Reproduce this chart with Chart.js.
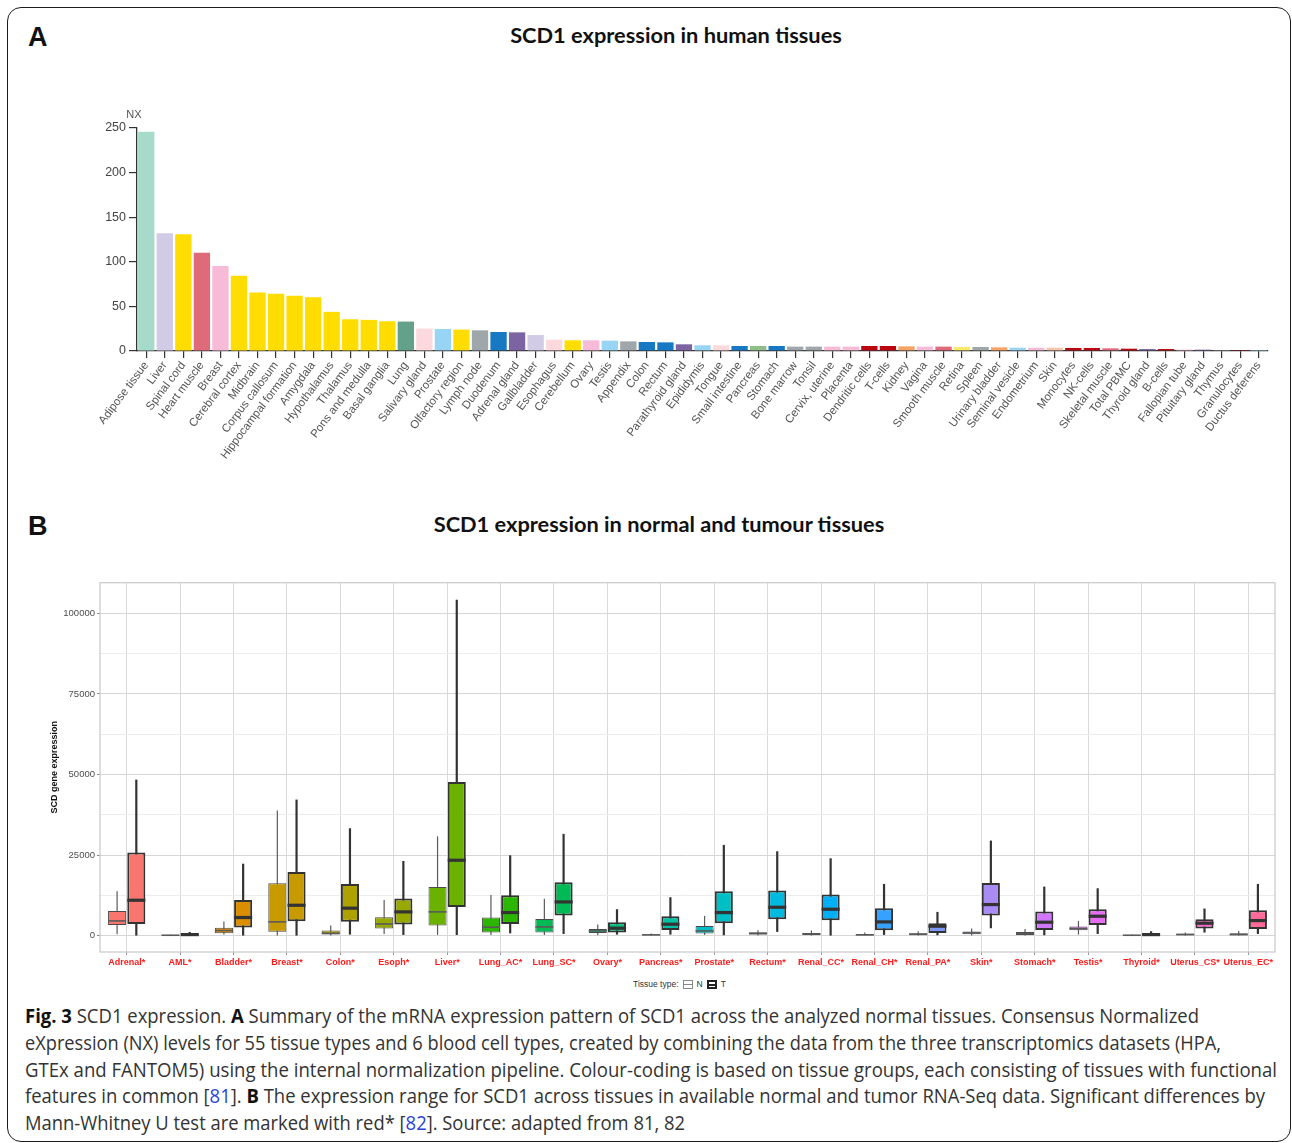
<!DOCTYPE html>
<html>
<head>
<meta charset="utf-8">
<script src="https://cdn.jsdelivr.net/npm/chart.js@4/dist/chart.umd.min.js"></script>
<style>
  body { margin: 0; width: 1292px; height: 1143px; position: relative; overflow: hidden; background: #fff; font-family: "Liberation Sans", Arial, sans-serif; }
  #frame { position: absolute; left: 7px; top: 7px; width: 1284px; height: 1135px; border: 1.6px solid #1c1c1c; border-radius: 14px; box-sizing: border-box; }
  .letter { position: absolute; font: bold 27px "Liberation Sans", Arial, sans-serif; color: #111; }
  .title { position: absolute; font: bold 21.8px Lato, sans-serif; color: #111; white-space: nowrap; transform: translate(-50%, -50%); }
  #chartA { position: absolute; left: 55px; top: 95px; }
  #chartB { position: absolute; left: 45px; top: 575px; }
  #legendB { position: absolute; left: 633px; top: 979px; font: 8.5px "Liberation Sans", Arial, sans-serif; color: #333; white-space: nowrap; }
  #legendB .key { display: inline-block; width: 10px; height: 9px; vertical-align: middle; box-sizing: border-box; margin: 0 4px 0 4px; }
  #caption { position: absolute; left: 25px; top: 1003px; font: 20px "Open Sans", sans-serif; color: #333; }
  #caption div { white-space: nowrap; line-height: 26.8px; transform-origin: 0 50%; width: max-content; }
  #caption b { font-weight: 700; color: #111; }
  #caption .ref { color: #2a3fd8; }
</style>
</head>
<body>
<div id="frame"></div>
<div class="letter" style="left:28px;top:22px">A</div>
<div class="title" style="left:676px;top:34px">SCD1 expression in human tissues</div>
<div class="letter" style="left:28px;top:511px">B</div>
<div class="title" style="left:659px;top:523px">SCD1 expression in normal and tumour tissues</div>

<canvas id="chartA" width="1237" height="395"></canvas>
<canvas id="chartB" width="1247" height="400"></canvas>

<div id="legendB">Tissue type:<span class="key" id="keyN"></span>N<span class="key" id="keyT"></span>T</div>

<div id="caption">
  <div><b>Fig. 3</b> SCD1 expression. <b>A</b> Summary of the mRNA expression pattern of SCD1 across the analyzed normal tissues. Consensus Normalized</div>
  <div>eXpression (NX) levels for 55 tissue types and 6 blood cell types, created by combining the data from the three transcriptomics datasets (HPA,</div>
  <div>GTEx and FANTOM5) using the internal normalization pipeline. Colour-coding is based on tissue groups, each consisting of tissues with functional</div>
  <div>features in common [<span class="ref">81</span>]. <b>B</b> The expression range for SCD1 across tissues in available normal and tumor RNA-Seq data. Significant differences by</div>
  <div>Mann-Whitney U test are marked with red* [<span class="ref">82</span>]. Source: adapted from 81, 82</div>
</div>

<script>
// Panel A: consensus NX per tissue
const tissues = [
  "Adipose tissue", "Liver", "Spinal cord", "Heart muscle", "Breast", "Cerebral cortex",
  "Midbrain", "Corpus callosum", "Hippocampal formation", "Amygdala", "Hypothalamus",
  "Thalamus", "Pons and medulla", "Basal ganglia", "Lung", "Salivary gland", "Prostate",
  "Olfactory region", "Lymph node", "Duodenum", "Adrenal gland", "Gallbladder", "Esophagus",
  "Cerebellum", "Ovary", "Testis", "Appendix", "Colon", "Rectum", "Parathyroid gland",
  "Epididymis", "Tongue", "Small intestine", "Pancreas", "Stomach", "Bone marrow", "Tonsil",
  "Cervix, uterine", "Placenta", "Dendritic cells", "T-cells", "Kidney", "Vagina",
  "Smooth muscle", "Retina", "Spleen", "Urinary bladder", "Seminal vesicle", "Endometrium",
  "Skin", "Monocytes", "NK-cells", "Skeletal muscle", "Total PBMC", "Thyroid gland",
  "B-cells", "Fallopian tube", "Pituitary gland", "Thymus", "Granulocytes", "Ductus deferens"
];
const nxValues = [
  245.9, 131.9, 130.8, 110.2, 95.2, 84.3,
  65.6, 64.1, 61.8, 60.3, 43.9,
  35.6, 34.9, 33.4, 33.0, 25.1, 24.7,
  24.0, 23.2, 21.3, 20.9, 17.9, 12.7,
  12.0, 12.0, 11.6, 10.8, 10.1, 9.7, 7.5,
  6.4, 6.4, 5.6, 5.6, 5.6, 4.9, 4.9,
  4.9, 4.9, 5.6, 5.6, 5.2, 4.9,
  4.9, 4.5, 4.5, 4.1, 3.7, 3.7,
  3.7, 3.4, 3.4, 3.0, 2.6, 2.2,
  2.2, 1.5, 1.5, 1.1, 0.3, 0.2
];
const groupColors = {
  adipose: "#a6dbcb", liver: "#d2cbe6", brain: "#ffdd00", muscle: "#de6a7a", female: "#f8bbd7",
  lung: "#64a18a", proximal: "#fcd9dc", male: "#98d4f3", lymphoid: "#a0a7aa", gut: "#1779c3",
  endocrine: "#7c64a2", pancreas: "#8fbf87", blood: "#bd0710", kidney: "#f7a364", eye: "#f9e86a",
  skin: "#f8c6aa"
};
const tissueGroups = [
  "adipose", "liver", "brain", "muscle", "female", "brain",
  "brain", "brain", "brain", "brain", "brain",
  "brain", "brain", "brain", "lung", "proximal", "male",
  "brain", "lymphoid", "gut", "endocrine", "liver", "proximal",
  "brain", "female", "male", "lymphoid", "gut", "gut", "endocrine",
  "male", "proximal", "gut", "pancreas", "gut", "lymphoid", "lymphoid",
  "female", "female", "blood", "blood", "kidney", "female",
  "muscle", "eye", "lymphoid", "kidney", "male", "female",
  "skin", "blood", "blood", "muscle", "blood", "endocrine",
  "blood", "female", "endocrine", "lymphoid", "blood", "male"
];
const nxTicks = [0, 50, 100, 150, 200, 250];

// Panel B: box statistics per cancer type (N = normal, T = tumour)
const cancerTypes = [
  "Adrenal*", "AML*", "Bladder*", "Breast*", "Colon*", "Esoph*", "Liver*", "Lung_AC*",
  "Lung_SC*", "Ovary*", "Pancreas*", "Prostate*", "Rectum*", "Renal_CC*", "Renal_CH*",
  "Renal_PA*", "Skin*", "Stomach*", "Testis*", "Thyroid*", "Uterus_CS*", "Uterus_EC*"
];
const nMin = [400, 0, 300, 0, 0, 500, 200, 200, 200, 100, 0, 200, 0, 0, 0, 0, 0, 0, 300, 0, 0, 0];
const nQ1  = [3300, 0, 700, 1150, 300, 2200, 3100, 930, 930, 830, 0, 620, 300, 200, 0, 100, 410, 200, 1650, 0, 0, 0];
const nMed = [4550, 100, 1550, 4250, 700, 3600, 7350, 2590, 2690, 1450, 200, 1450, 620, 520, 200, 410, 830, 620, 2170, 100, 300, 300];
const nQ3  = [7650, 200, 2400, 16200, 1550, 5700, 15100, 5580, 5170, 2070, 410, 3000, 1030, 830, 520, 720, 1240, 1140, 2790, 200, 620, 720];
const nMax = [13750, 300, 4400, 38800, 3100, 11050, 30800, 12600, 11400, 3400, 620, 6100, 1650, 1550, 930, 1340, 2170, 2070, 4550, 300, 930, 1450];

const tMin = [0, 0, 0, 0, 300, 200, 200, 700, 500, 300, 300, 100, 1140, 0, 200, 100, 2280, 100, 500, 0, 930, 500];
const tQ1  = [3600, 0, 2500, 4450, 4250, 3400, 8900, 3600, 6200, 930, 1760, 3830, 5070, 4760, 1650, 830, 6200, 1760, 3310, 0, 2170, 2070];
const tMed = [10960, 300, 5600, 9400, 8500, 7350, 23370, 7140, 10440, 2280, 3520, 7140, 8790, 8170, 4240, 2900, 9620, 4140, 6000, 300, 3830, 4650];
const tQ3  = [25750, 700, 11050, 19750, 16000, 11500, 47670, 12500, 16550, 4140, 6000, 13750, 13960, 12720, 8480, 3830, 16340, 7450, 8170, 830, 5070, 7860];
const tMax = [48400, 1100, 22300, 42200, 33300, 23150, 104240, 24900, 31540, 8170, 11900, 28130, 26160, 23990, 16030, 7340, 29470, 15200, 14680, 1340, 8380, 16030];

const cancerColors = [
  "#f8766d", "#ea8331", "#db8e00", "#c79a00", "#aea200", "#97a900", "#6bb100", "#2db600",
  "#00bb55", "#00bf7d", "#00c1a3", "#00bfc4", "#00bae0", "#00b0f6", "#35a2ff",
  "#7997ff", "#a98bf5", "#d077fc", "#e76bf3", "#f564e3", "#fc62c9", "#ff6a98"
];
const exprMajorTicks = [0, 25000, 50000, 75000, 100000];

function pairs(lo, hi) {
  const out = [];
  for (let i = 0; i < lo.length; i++) {
    const p = [lo[i], hi[i] ];
    out.push(p);
  }
  return out;
}

// ---------- Panel A ----------
const nxLabel = {
  id: "nxLabel",
  afterDraw(chart) {
    const ctx = chart.ctx;
    const y = chart.scales.y;
    ctx.save();
    ctx.fillStyle = "#555";
    ctx.font = "11px 'Liberation Sans', Arial";
    ctx.textAlign = "center";
    ctx.fillText("NX", y.right - 3, y.top - 10);
    ctx.restore();
  }
};

new Chart(document.getElementById("chartA"), {
  type: "bar",
  data: {
    labels: tissues,
    datasets: [{
      data: nxValues,
      backgroundColor: tissueGroups.map(g => groupColors[g]),
      barPercentage: 0.88,
      categoryPercentage: 1
    }]
  },
  options: {
    responsive: false,
    animation: false,
    layout: { padding: { top: 33, right: 24, left: 0, bottom: 0 } },
    plugins: { legend: { display: false }, tooltip: { enabled: false } },
    scales: {
      x: {
        afterFit(scale) { scale.height = 139; },
        grid: { drawOnChartArea: false, offset: false, tickLength: 7, tickColor: "#333", lineWidth: 1.2 },
        border: { color: "#333", width: 1.3 },
        ticks: {
          autoSkip: false, minRotation: 53, maxRotation: 53, padding: 1,
          color: "#555", font: { size: 11.5, family: "'Liberation Sans', Arial" }
        }
      },
      y: {
        min: 0, max: 250,
        afterFit(scale) { scale.width = 82; },
        afterBuildTicks(scale) { scale.ticks = nxTicks.map(v => ({ value: v })); },
        grid: { drawOnChartArea: false, tickLength: 8, tickColor: "#333", lineWidth: 1.2 },
        border: { color: "#333", width: 1.3 },
        ticks: { color: "#444", padding: 3, font: { size: 12.5, family: "'Liberation Sans', Arial" } }
      }
    }
  },
  plugins: [nxLabel]
});

// ---------- Panel B ----------
const boxSets = [
  { min: nMin, med: nMed, max: nMax, whisker: 1.2, median: 1.6, color: "#5a5a5a" },
  { min: tMin, med: tMed, max: tMax, whisker: 2.2, median: 3.2, color: "#333" }
];

const boxLines = {
  id: "boxLines",
  beforeDatasetsDraw(chart) {
    const ctx = chart.ctx, y = chart.scales.y;
    boxSets.forEach((s, d) => {
      chart.getDatasetMeta(d).data.forEach((bar, i) => {
        ctx.save();
        ctx.strokeStyle = s.color;
        ctx.lineWidth = s.whisker;
        ctx.beginPath();
        ctx.moveTo(bar.x, y.getPixelForValue(s.min[i]));
        ctx.lineTo(bar.x, y.getPixelForValue(s.max[i]));
        ctx.stroke();
        ctx.restore();
      });
    });
  },
  afterDatasetsDraw(chart) {
    const ctx = chart.ctx, y = chart.scales.y;
    boxSets.forEach((s, d) => {
      chart.getDatasetMeta(d).data.forEach((bar, i) => {
        const py = y.getPixelForValue(s.med[i]);
        ctx.save();
        ctx.strokeStyle = s.color;
        ctx.lineWidth = s.median;
        ctx.beginPath();
        ctx.moveTo(bar.x - bar.width / 2, py);
        ctx.lineTo(bar.x + bar.width / 2, py);
        ctx.stroke();
        ctx.restore();
      });
    });
  },
  afterDraw(chart) {
    const a = chart.chartArea, ctx = chart.ctx;
    ctx.save();
    ctx.strokeStyle = "#c8c8c8";
    ctx.lineWidth = 1.2;
    ctx.strokeRect(a.left, a.top, a.right - a.left, a.bottom - a.top);
    ctx.restore();
  }
};

function isMajor(v) { return exprMajorTicks.indexOf(v) !== -1; }

new Chart(document.getElementById("chartB"), {
  type: "bar",
  data: {
    labels: cancerTypes,
    datasets: [
      {
        label: "N",
        data: pairs(nQ1, nQ3),
        backgroundColor: cancerColors,
        borderColor: "#4a4a4a",
        borderWidth: 1,
        borderSkipped: false,
        barPercentage: 0.94,
        categoryPercentage: 0.72
      },
      {
        label: "T",
        data: pairs(tQ1, tQ3),
        backgroundColor: cancerColors,
        borderColor: "#333",
        borderWidth: 2,
        borderSkipped: false,
        barPercentage: 0.94,
        categoryPercentage: 0.72
      }
    ]
  },
  options: {
    responsive: false,
    animation: false,
    layout: { padding: { top: 7, right: 17, left: 0, bottom: 0 } },
    plugins: { legend: { display: false }, tooltip: { enabled: false } },
    scales: {
      x: {
        afterFit(scale) { scale.height = 23; },
        grid: { offset: false, color: "#dadada", lineWidth: 1, tickLength: 3, tickColor: "#999" },
        border: { display: false },
        ticks: {
          color: "#ff1a1a", padding: 2, autoSkip: false, maxRotation: 0,
          font: { size: 9, weight: "bold", family: "'Liberation Sans', Arial" }
        }
      },
      y: {
        min: -5100, max: 109500,
        afterFit(scale) { scale.width = 55; },
        afterBuildTicks(scale) {
          const ticks = [];
          for (let i = 0; i < exprMajorTicks.length; i++) {
            ticks.push({ value: exprMajorTicks[i] });
            if (i < exprMajorTicks.length - 1) {
              ticks.push({ value: (exprMajorTicks[i] + exprMajorTicks[i + 1]) / 2 });
            }
          }
          scale.ticks = ticks;
        },
        grid: {
          color: c => isMajor(c.tick.value) ? "#d6d6d6" : "#ececec",
          tickColor: c => isMajor(c.tick.value) ? "#888" : "rgba(0,0,0,0)",
          lineWidth: 1, tickLength: 3
        },
        border: { display: false },
        ticks: {
          color: "#4d4d4d", padding: 2,
          font: { size: 9.5, family: "'Liberation Sans', Arial" },
          callback: v => isMajor(v) ? String(v) : ""
        },
        title: {
          display: true, text: "SCD gene expression", color: "#111", padding: 4,
          font: { size: 9, weight: "bold", family: "'Liberation Sans', Arial" }
        }
      }
    }
  },
  plugins: [boxLines]
});

// legend keys styled like the ggplot box glyphs
const keyN = document.getElementById("keyN");
keyN.style.border = "1px solid #888";
keyN.style.background = "linear-gradient(#fff 0 3.5px, #888 3.5px 4.5px, #fff 4.5px)";
const keyT = document.getElementById("keyT");
keyT.style.border = "2px solid #222";
keyT.style.background = "linear-gradient(#fff 0 2px, #222 2px 4px, #fff 4px)";

// fit caption lines to the widths measured on the reference
const lineWidths = [1174, 1196, 1252, 1240, 660];
document.querySelectorAll("#caption div").forEach((el, i) => {
  const w = el.getBoundingClientRect().width;
  el.style.transform = "scaleX(" + (lineWidths[i] / w) + ")";
});
</script>
</body>
</html>
